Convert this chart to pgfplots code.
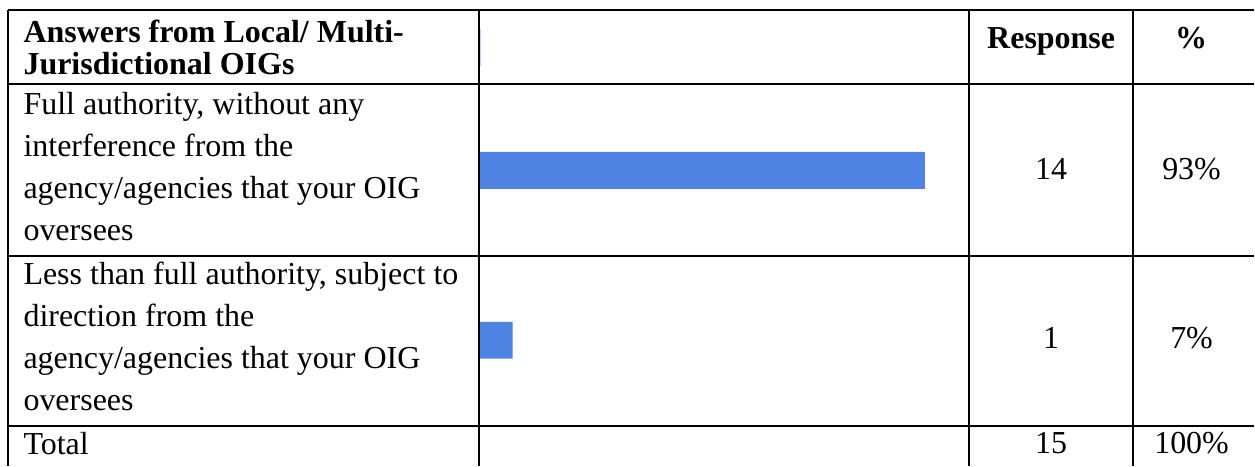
\documentclass[border=0pt]{standalone}
\usepackage{pgfplots}
\pgfplotsset{compat=1.18}
\usepackage{fontspec}
\setmainfont{Liberation Serif}
\definecolor{barblue}{RGB}{78,131,228}
\begin{document}
\begin{tikzpicture}
\begin{scope}[x=0.375pt,y=-0.375pt]
\useasboundingbox (0,0) rectangle (1255,466);
\end{scope}
% bars
\begin{axis}[at={(179.8125pt,0pt)},anchor=north west,
  scale only axis,width=179.85pt,height=174.75pt,
  hide axis,clip=false,
  xmin=0,xmax=100,ymin=0,ymax=466,y dir=reverse,
  xbar,bar width=13.875pt]
\addplot[fill=barblue,draw=none] coordinates {(0.25,47.5) (93,170.5) (7,340.5)};
\end{axis}
\begin{scope}[x=0.375pt,y=-0.375pt,
  txt/.style={inner sep=0pt,font=\fontsize{12}{14}\selectfont},
  hd/.style={inner sep=0pt,font=\fontsize{12}{14}\selectfont\bfseries}]
% grid lines
\begin{scope}[line width=0.75pt]
\draw (8,10) -- (1255,10);
\draw (8,84) -- (1255,84);
\draw (8,256) -- (1255,256);
\draw (8,426) -- (1255,426);
\draw (8,10) -- (8,466);
\draw (479,10) -- (479,466);
\draw (970,10) -- (970,466);
\draw (1134,10) -- (1134,466);
\end{scope}
% header
\node[hd,anchor=base west] at (23,43) {Answers from Local/ Multi-};
\node[hd,anchor=base west] at (23,75) {Jurisdictional OIGs};
\node[hd,anchor=base] at (1052,49) {Response};
\node[hd,anchor=base] at (1192,49) {\%};
% row 1
\node[txt,anchor=base west] at (23,115) {Full authority, without any};
\node[txt,anchor=base west] at (23,157) {interference from the};
\node[txt,anchor=base west] at (23,199) {agency/agencies that your OIG};
\node[txt,anchor=base west] at (23,241) {oversees};
\node[txt,anchor=base] at (1052,180) {14};
\node[txt,anchor=base] at (1192.5,180) {93\%};
% row 2
\node[txt,anchor=base west] at (23,285) {Less than full authority, subject to};
\node[txt,anchor=base west] at (23,327) {direction from the};
\node[txt,anchor=base west] at (23,369) {agency/agencies that your OIG};
\node[txt,anchor=base west] at (23,411) {oversees};
\node[txt,anchor=base] at (1052,349) {1};
\node[txt,anchor=base] at (1192.5,349) {7\%};
% total
\node[txt,anchor=base west] at (23,455) {Total};
\node[txt,anchor=base] at (1052,454) {15};
\node[txt,anchor=base] at (1192.5,454) {100\%};
\end{scope}
\end{tikzpicture}
\end{document}
